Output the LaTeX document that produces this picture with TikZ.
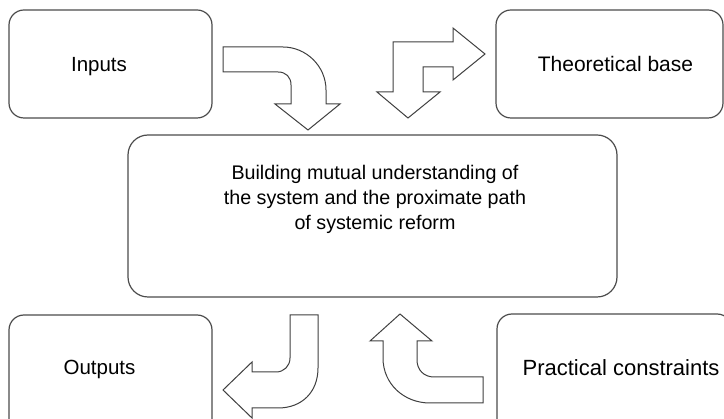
\documentclass[tikz,border=0pt]{standalone}
\usepackage{fontspec}
\setmainfont{Liberation Sans}
\begin{document}
\begin{tikzpicture}[x=1pt, y=-1pt, line width=1.2pt,
  main box/.style={draw=black!70, rounded corners=15pt, minimum width=203pt, minimum height=108pt, inner sep=0pt},
  box text/.style={font=\fontsize{20.5}{25}\selectfont, align=center, inner sep=0pt},
  block arrow/.style={draw=black!75, fill=white, line width=1pt, line join=miter}]
\clip (0,0) rectangle (724,419);
\node [main box] (inputs) at (110.5,64) {};
\node [main box, minimum width=227pt] (theory) at (609.5,64) {};
\node [main box, minimum width=489pt, minimum height=162pt, rounded corners=20pt] (centre) at (372.5,216) {};
\node [main box, minimum height=120pt] (outputs) at (110.5,375) {};
\node [main box, minimum width=235pt, minimum height=120pt] (practical) at (614.5,374) {};
\node [box text, anchor=base] (inputs text) at (99,72) {Inputs};
\node [box text, font=\fontsize{21}{25}\selectfont, anchor=base] (theory text) at (615.5,71.7) {Theoretical base};
\node [box text, font=\fontsize{19.7}{25}\selectfont, anchor=north] (centre text) at (375,165) {Building mutual understanding of\\the system and the proximate path\\of systemic reform};
\node [box text, anchor=base] (outputs text) at (99.5,375) {Outputs};
\node [box text, font=\fontsize{22}{25}\selectfont, anchor=base west] (practical text) at (522,376) {Practical constraints};
% bent block arrows
\draw [block arrow] (223,47) -- (283,47) .. controls (306,47) and (326,66) .. (326,90) -- (326,104) -- (340,104) -- (308,130) -- (275,104) -- (291,104) -- (291,85) .. controls (291,77) and (286,72) .. (278,72) -- (223,72) -- cycle;
\draw [block arrow] (485,54) -- (453,28) -- (453,42) -- (393,42) -- (393,92) -- (377,92) -- (408,118) -- (440,92) -- (423,92) -- (423,67) -- (453,67) -- (453,80) -- cycle;
\draw [block arrow] (290,315) -- (318,315) -- (318,368) .. controls (318,392) and (302,408) .. (278,408) -- (252,408) -- (252,418) -- (223,390) -- (252,362) -- (252,372) -- (276,372) .. controls (284,372) and (290,366) .. (290,358) -- cycle;
\draw [block arrow] (483,377) -- (483,403) -- (430,403) .. controls (404,403) and (383,384) .. (383,358) -- (383,341) -- (370,341) -- (400,314) -- (432,341) -- (417,341) -- (417,360) .. controls (417,370) and (424,377) .. (434,377) -- cycle;
\end{tikzpicture}
\end{document}
